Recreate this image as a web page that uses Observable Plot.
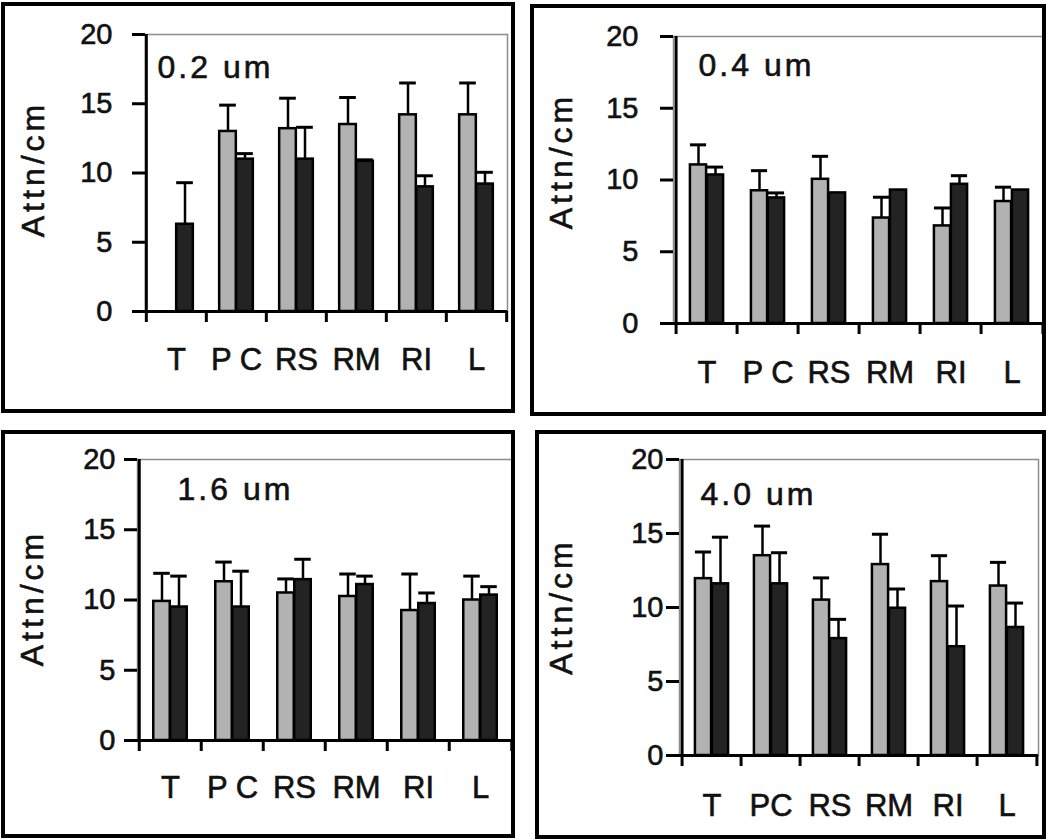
<!DOCTYPE html>
<html><head><meta charset="utf-8">
<script src="https://cdn.jsdelivr.net/npm/d3@7"></script>
<script src="https://cdn.jsdelivr.net/npm/@observablehq/plot@0.6"></script>
<style>
body{margin:0;background:#fff;}
#root{position:relative;width:1050px;height:840px;overflow:hidden;font-family:"Liberation Sans",Arial,sans-serif;background:#fff;}
.box{position:absolute;border:4px solid #000;box-sizing:border-box;pointer-events:none;}
.plotwrap{position:absolute;}
.plotwrap svg text{stroke:#111;stroke-width:0.6px;}
.ylab text{letter-spacing:4px;}
.ptitle text{letter-spacing:3px;}
</style></head><body><div id="root"></div>
<script>
// ---- data ----
const categories = ["T","PC","RS","RM","RI","L"];
const tickLabels = ["T","P C","RS","RM","RI","L"];
const tickLabels4 = ["T","PC","RS","RM","RI","L"];
const panelTitles = ["0.2 um","0.4 um","1.6 um","4.0 um"];
const yTicks = [0,5,10,15,20];
const yLabel = "Attn/cm";

// 0.2 um
const gray02  = [null, 13.0, 13.2, 13.5, 14.2, 14.2];
const grayE02 = [null, 1.9, 2.2, 1.95, 2.3, 2.3];
const black02 = [6.3, 11.0, 11.0, 10.85, 9.0, 9.2];
const blackE02= [3.0, 0.4, 2.3, 0.1, 0.8, 0.85];
// 0.4 um
const gray04  = [11.05, 9.25, 10.05, 7.35, 6.8, 8.5];
const grayE04 = [1.4, 1.4, 1.6, 1.45, 1.25, 1.0];
const black04 = [10.35, 8.75, 9.1, 9.3, 9.7, 9.3];
const blackE04= [0.55, 0.35, null, null, 0.6, null];
// 1.6 um
const gray16  = [9.9, 11.3, 10.5, 10.25, 9.25, 10.0];
const grayE16 = [2.0, 1.4, 1.0, 1.6, 2.6, 1.7];
const black16 = [9.5, 9.5, 11.45, 11.1, 9.75, 10.35];
const blackE16= [2.2, 2.55, 1.45, 0.6, 0.75, 0.6];
// 4.0 um
const gray40  = [11.95, 13.5, 10.5, 12.9, 11.75, 11.45];
const grayE40 = [1.8, 2.0, 1.5, 2.05, 1.75, 1.6];
const black40 = [11.6, 11.6, 7.9, 9.95, 7.35, 8.65];
const blackE40= [3.15, 2.1, 1.3, 1.3, 2.75, 1.65];

// ---- layout ----
const FONT = '"Liberation Sans", Arial, sans-serif';
const panels = [
  {left:0,top:0,ml:145,mr:18,mt:34,mb:109,pad:20,ylx:33,yldy:-4,tdx:12,tdy:21,xpad:36,
   box:[1,2,514,411], g:gray02,gE:grayE02,b:black02,bE:blackE02,title:panelTitles[0],labels:tickLabels},
  {left:525,top:0,ml:148,mr:6,mt:36,mb:97,pad:22,ylx:36,yldy:-19,tdx:25,tdy:17,xpad:37,
   box:[530,4,516,412], g:gray04,gE:grayE04,b:black04,bE:blackE04,title:panelTitles[1],labels:tickLabels},
  {left:0,top:420,ml:137,mr:13,mt:39,mb:100,pad:9,ylx:32,yldy:-2,tdx:40,tdy:18,xpad:35,
   box:[1,430,514,408], g:gray16,gE:grayE16,b:black16,bE:blackE16,title:panelTitles[2],labels:tickLabels},
  {left:525,top:420,ml:154,mr:12,mt:39,mb:85,pad:3,ylx:36,yldy:-1,tdx:21,tdy:23,xpad:38,
   box:[535,430,511,409], g:gray40,gE:grayE40,b:black40,bE:blackE40,title:panelTitles[3],labels:tickLabels4}
];

const root = document.getElementById("root");
const W = 525, H = 420;

panels.forEach(cfg => {
  const rows = categories.map((c,i) => ({
    cat: c,
    g: cfg.g[i],
    gTop: (cfg.g[i] != null && cfg.gE[i] != null) ? cfg.g[i] + cfg.gE[i] : null,
    b: cfg.b[i],
    bTop: (cfg.b[i] != null && cfg.bE[i] != null) ? cfg.b[i] + cfg.bE[i] : null
  }));
  const bw = (W - cfg.ml - cfg.mr) / categories.length;
  const half = bw / 2, barW = 17;
  const last = categories[categories.length - 1];
  const chart = Plot.plot({
    width: W, height: H,
    marginLeft: cfg.ml, marginRight: cfg.mr, marginTop: cfg.mt, marginBottom: cfg.mb,
    style: {fontFamily: FONT, fontSize: "29px", color: "#111", background: "transparent", overflow: "visible"},
    x: {domain: categories, padding: 0, axis: null},
    y: {domain: [0, 20], axis: null},
    marks: [
      Plot.frame({stroke: "#8c8c8c", strokeWidth: 1.5}),
      Plot.barY(rows, {x: "cat", y: "g", fill: "#b2b2b2", stroke: "#000", strokeWidth: 2.5, insetLeft: half - barW, insetRight: half}),
      Plot.barY(rows, {x: "cat", y: "b", fill: "#232323", stroke: "#000", strokeWidth: 2.5, insetLeft: half, insetRight: half - barW}),
      Plot.ruleX(rows.filter(d => d.gTop != null), {x: "cat", y1: "g", y2: "gTop", dx: -barW/2, stroke: "#000", strokeWidth: 2.5}),
      Plot.tickY(rows.filter(d => d.gTop != null), {x: "cat", y: "gTop", insetLeft: half - barW, insetRight: half, stroke: "#000", strokeWidth: 3}),
      Plot.ruleX(rows.filter(d => d.bTop != null), {x: "cat", y1: "b", y2: "bTop", dx: barW/2, stroke: "#000", strokeWidth: 2.5}),
      Plot.tickY(rows.filter(d => d.bTop != null), {x: "cat", y: "bTop", insetLeft: half, insetRight: half - barW, stroke: "#000", strokeWidth: 3}),
      Plot.ruleY([0], {stroke: "#000", strokeWidth: 3}),
      Plot.ruleX([categories[0]], {x: d => d, y1: 0, y2: 20, dx: -half, stroke: "#000", strokeWidth: 3}),
      Plot.ruleX(categories, {x: d => d, y1: 0, y2: 0, dx: -half, insetBottom: -11, stroke: "#000", strokeWidth: 3}),
      Plot.ruleX([last], {x: d => d, y1: 0, y2: 0, dx: half, insetBottom: -11, stroke: "#000", strokeWidth: 3}),
      Plot.axisY({ticks: yTicks, tickSize: 13, tickPadding: cfg.pad, fontSize: 29, label: null, strokeWidth: 3, stroke: "#000", fill: "#111"}),
      Plot.axisX({tickSize: 0, tickPadding: cfg.xpad, tickFormat: d => cfg.labels[categories.indexOf(d)], fontSize: 31, label: null, fill: "#111"}),
      Plot.text([yLabel], {text: d => d, frameAnchor: "left", textAnchor: "middle", rotate: -90, dx: cfg.ylx - cfg.ml, dy: cfg.yldy, fontSize: 32, fill: "#111", className: "ylab"}),
      Plot.text([cfg.title], {text: d => d, frameAnchor: "top-left", textAnchor: "start", lineAnchor: "top", dx: cfg.tdx, dy: cfg.tdy, fontSize: 32, fill: "#111", className: "ptitle"})
    ]
  });
  const wrap = document.createElement("div");
  wrap.className = "plotwrap";
  wrap.style.left = cfg.left + "px";
  wrap.style.top = cfg.top + "px";
  wrap.appendChild(chart);
  root.appendChild(wrap);
  const box = document.createElement("div");
  box.className = "box";
  box.style.left = cfg.box[0] + "px";
  box.style.top = cfg.box[1] + "px";
  box.style.width = cfg.box[2] + "px";
  box.style.height = cfg.box[3] + "px";
  root.appendChild(box);
});
</script>
</body></html>
